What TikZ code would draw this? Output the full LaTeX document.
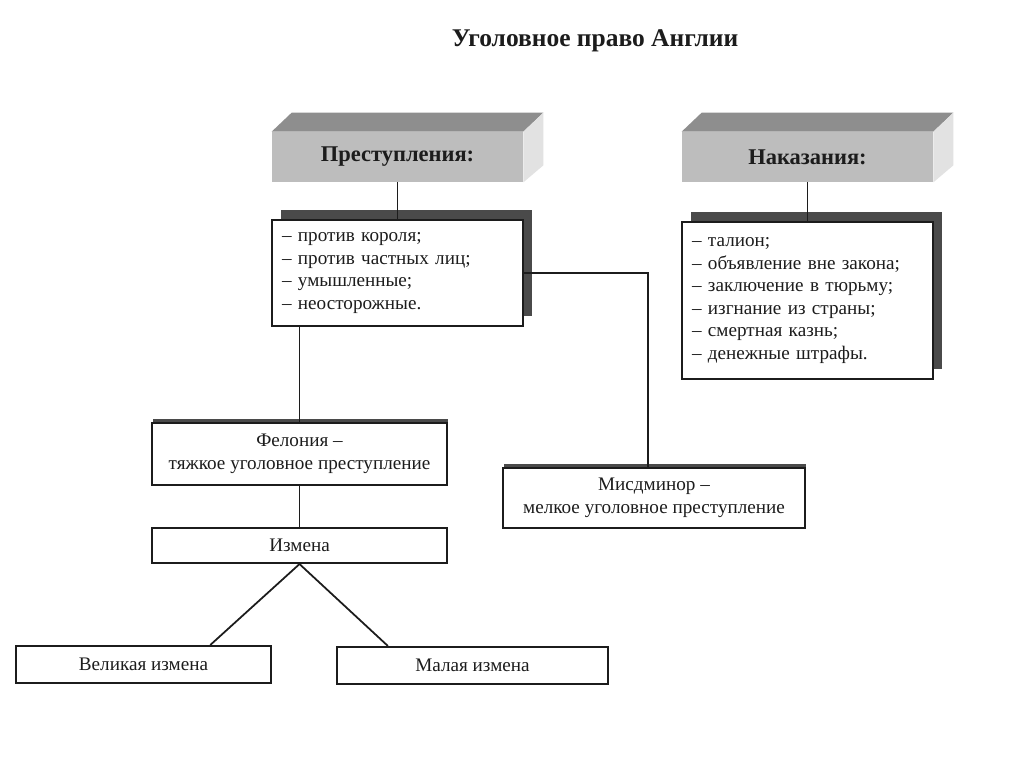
\documentclass[tikz,border=0pt]{standalone}
\usepackage{fontspec}
\setmainfont{Liberation Serif}
\usetikzlibrary{calc,shadows}
\definecolor{ink}{HTML}{1C1C1C}
\definecolor{facetop}{HTML}{8E8E8E}
\definecolor{facefront}{HTML}{BDBDBD}
\definecolor{faceside}{HTML}{E2E2E2}
\definecolor{shade}{HTML}{4A4A4A}
\begin{document}
\begin{tikzpicture}[x=0.02cm,y=-0.02cm,text=ink,font=\fontsize{10.9}{12.8}\selectfont,
  head/.style={fill=facefront,minimum width=5.02cm,minimum height=1cm,font=\fontsize{12.8}{14}\selectfont\bfseries},
  listbox/.style={draw=ink,line width=1.2pt,fill=white,align=left,text width=4.62cm,inner xsep=0.2cm,minimum height=#1,
    drop shadow={shadow xshift=0.18cm,shadow yshift=0.2cm,fill=shade,opacity=1}},
  box/.style={draw=ink,line width=1.2pt,fill=white,align=center,inner sep=2pt},
  topbox/.style={box,drop shadow={shadow xshift=0.02cm,shadow yshift=0.09cm,fill=shade,opacity=1}},
  link/.style={draw=ink,line width=1pt}]
  \useasboundingbox (0,0) rectangle (1024,767);
  \fill[white] (0,0) rectangle (1024,767);
  \node[font=\fontsize{14.5}{16}\selectfont\bfseries] (title) at (595,41) {Уголовное право Англии};
  \node[head] (crimehead) at (397.5,157) {Преступления:};
  \node[head] (punhead) at (807.5,157) {Наказания:};
  \foreach \h in {crimehead,punhead}{
    \fill[facetop] (\h.north west) -- ++(20,-19) -- ($(\h.north east)+(20,-19)$) -- (\h.north east) -- cycle;
    \fill[faceside] (\h.north east) -- ++(20,-19) -- ($(\h.south east)+(20,-17)$) -- (\h.south east) -- cycle;
  }
  \node[listbox=2.12cm] (crimelist) at (397.5,273) {– против короля;\\– против частных лиц;\\– умышленные;\\– неосторожные.};
  \node[listbox=3.14cm] (punlist) at (807.5,300.5) {– талион;\\– объявление вне закона;\\– заключение в тюрьму;\\– изгнание из страны;\\– смертная казнь;\\– денежные штрафы.};
  \node[topbox,minimum width=5.9cm,minimum height=1.24cm] (felony) at (299.5,454) {Фелония –\\тяжкое уголовное преступление};
  \node[topbox,minimum width=6.04cm,minimum height=1.2cm] (misd) at (654,498) {Мисдминор –\\мелкое уголовное преступление};
  \node[box,minimum width=5.9cm,minimum height=0.7cm] (treason) at (299.5,545.5) {Измена};
  \node[box,minimum width=5.1cm,minimum height=0.74cm] (great) at (143.5,664.5) {Великая измена};
  \node[box,minimum width=5.42cm,minimum height=0.74cm] (petty) at (472.5,665.5) {Малая измена};
  \draw[link] (crimehead) -- (crimelist);
  \draw[link] (punhead) -- (punlist);
  \draw[link] (crimelist.south -| felony.north) -- (felony.north);
  \draw[link] (crimelist.east) -| ($(misd.north)+(-6,0)$);
  \draw[link] (felony) -- (treason);
  \draw[link] ($(great.north west)!0.76!(great.north east)$) -- (treason.south) -- ($(petty.north west)!0.19!(petty.north east)$);
\end{tikzpicture}
\end{document}
